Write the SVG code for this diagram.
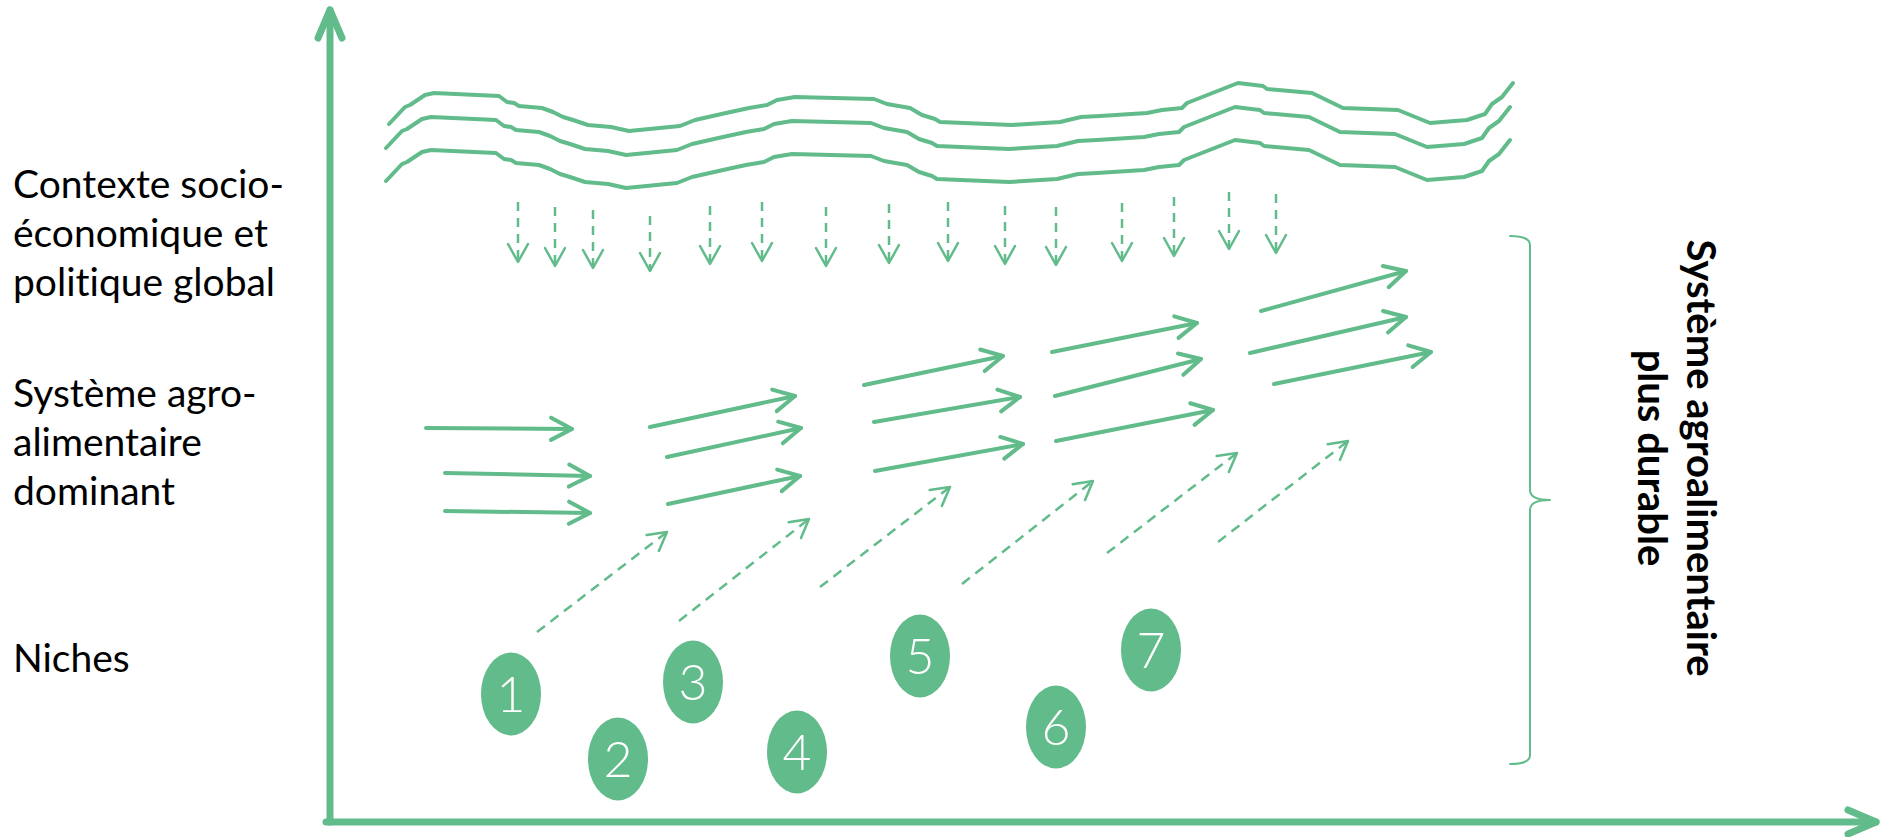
<svg xmlns="http://www.w3.org/2000/svg" xmlns:xlink="http://www.w3.org/1999/xlink" width="1881" height="837" viewBox="0 0 1881 837">
<style>
.g{fill:none;stroke:#62BB8A;stroke-linecap:round;stroke-linejoin:round}
.axis{stroke-width:7}
.wave{stroke-width:4}
.solid{stroke-width:4}
.vd{stroke-width:2.5;stroke-dasharray:9 7;stroke-linecap:butt}
.dd{stroke-width:2.5;stroke-dasharray:10 7;stroke-linecap:butt}
.brace{stroke-width:2}
text{font-variant-ligatures:none;font-feature-settings:"liga" 0,"dlig" 0,"clig" 0}
.lbl{font-family:Lato,"Liberation Sans",sans-serif;font-size:39px;fill:#000}
.rlbl{font-family:Lato,"Liberation Sans",sans-serif;font-size:40px;font-weight:bold;fill:#000;text-anchor:middle}
.niche ellipse{fill:#62BB8A}
.niche text{font-family:Lato,"Liberation Sans",sans-serif;font-weight:300;font-size:50px;fill:#fff;text-anchor:middle}
</style>
<defs>
<marker id="mAxis" markerUnits="userSpaceOnUse" orient="auto" overflow="visible" refX="0" refY="0" markerWidth="1" markerHeight="1">
<path d="M-28,-12 L0,0 L-28,12" fill="none" stroke="#62BB8A" stroke-width="7" stroke-linecap="round" stroke-linejoin="round"/>
</marker>
<marker id="mSolid" markerUnits="userSpaceOnUse" orient="auto" overflow="visible" refX="0" refY="0" markerWidth="1" markerHeight="1">
<path d="M-21,-11 L0,0 L-21,11" fill="none" stroke="#62BB8A" stroke-width="4" stroke-linecap="round" stroke-linejoin="round"/>
</marker>
<marker id="mDash" markerUnits="userSpaceOnUse" orient="auto" overflow="visible" refX="0" refY="0" markerWidth="1" markerHeight="1">
<path d="M-18,-10 L0,0 L-18,10" fill="none" stroke="#62BB8A" stroke-width="2.5" stroke-linecap="round" stroke-linejoin="round"/>
</marker>
<path id="wave" d="M389,124 L405,107 L410,105 L425,95 L434,93 L499,96 L507,102 L514,103 L519,106 L542,108 L553,112 L563,117 L573,120 L588,125 L611,127 L629,131 L680,126 L695,120 L726,113 L749,108 L767,105 L777,100 L795,97 L874,99 L887,104 L910,108 L922,115 L935,119 L940,122 L1012,125 L1060,122 L1081,117 L1100,116 L1147,113 L1162,110 L1182,108 L1187,103 L1238,83 L1263,86 L1267,89 L1312,93 L1343,108 L1398,110 L1430,123 L1467,120 L1485,114 L1492,104 L1502,97 L1513,83"/>
</defs>

<g id="axes" class="g axis">
<line x1="330" y1="822" x2="330" y2="10" marker-end="url(#mAxis)"/>
<line x1="326" y1="822" x2="1876" y2="822" marker-end="url(#mAxis)"/>
</g>

<g id="labels-left">
<text class="lbl" x="13" y="198">Contexte socio-</text>
<text class="lbl" x="13" y="247">économique et</text>
<text class="lbl" x="13" y="296">politique global</text>
<text class="lbl" x="13" y="407">Système agro-</text>
<text class="lbl" x="13" y="456">alimentaire</text>
<text class="lbl" x="13" y="505">dominant</text>
<text class="lbl" x="13" y="672">Niches</text>
</g>

<g id="context" class="g wave">
<use xlink:href="#wave"/>
<use xlink:href="#wave" transform="translate(-3,24)"/>
<use xlink:href="#wave" transform="translate(-3,57)"/>
</g>

<g id="connectors">
<g id="pressure-arrows" class="g vd">
<line x1="518" y1="202" x2="518" y2="262" marker-end="url(#mDash)"/>
<line x1="555" y1="207" x2="555" y2="266" marker-end="url(#mDash)"/>
<line x1="593" y1="210" x2="593" y2="268" marker-end="url(#mDash)"/>
<line x1="650" y1="216" x2="650" y2="271" marker-end="url(#mDash)"/>
<line x1="710" y1="206" x2="710" y2="264" marker-end="url(#mDash)"/>
<line x1="762" y1="202" x2="762" y2="261" marker-end="url(#mDash)"/>
<line x1="826" y1="207" x2="826" y2="266" marker-end="url(#mDash)"/>
<line x1="889" y1="204" x2="889" y2="263" marker-end="url(#mDash)"/>
<line x1="948" y1="202" x2="948" y2="261" marker-end="url(#mDash)"/>
<line x1="1005" y1="206" x2="1005" y2="264" marker-end="url(#mDash)"/>
<line x1="1056" y1="207" x2="1056" y2="265" marker-end="url(#mDash)"/>
<line x1="1122" y1="203" x2="1122" y2="261" marker-end="url(#mDash)"/>
<line x1="1174" y1="197" x2="1174" y2="256" marker-end="url(#mDash)"/>
<line x1="1229" y1="192" x2="1229" y2="249" marker-end="url(#mDash)"/>
<line x1="1276" y1="194" x2="1276" y2="253" marker-end="url(#mDash)"/>
</g>
<g id="regime-arrows" class="g solid">
<line x1="426" y1="428" x2="572" y2="429" marker-end="url(#mSolid)"/>
<line x1="445" y1="473" x2="590" y2="476" marker-end="url(#mSolid)"/>
<line x1="445" y1="511" x2="590" y2="513" marker-end="url(#mSolid)"/>
<line x1="650" y1="427" x2="795" y2="396" marker-end="url(#mSolid)"/>
<line x1="667" y1="457" x2="801" y2="428" marker-end="url(#mSolid)"/>
<line x1="668" y1="504" x2="800" y2="476" marker-end="url(#mSolid)"/>
<line x1="864" y1="385" x2="1003" y2="356" marker-end="url(#mSolid)"/>
<line x1="874" y1="422" x2="1020" y2="397" marker-end="url(#mSolid)"/>
<line x1="875" y1="471" x2="1023" y2="444" marker-end="url(#mSolid)"/>
<line x1="1052" y1="352" x2="1197" y2="323" marker-end="url(#mSolid)"/>
<line x1="1055" y1="396" x2="1201" y2="359" marker-end="url(#mSolid)"/>
<line x1="1056" y1="441" x2="1213" y2="410" marker-end="url(#mSolid)"/>
<line x1="1261" y1="311" x2="1406" y2="271" marker-end="url(#mSolid)"/>
<line x1="1250" y1="353" x2="1406" y2="317" marker-end="url(#mSolid)"/>
<line x1="1274" y1="384" x2="1431" y2="352" marker-end="url(#mSolid)"/>
</g>
<g id="niche-arrows" class="g dd">
<line x1="537" y1="632" x2="667" y2="532" marker-end="url(#mDash)"/>
<line x1="679" y1="621" x2="809" y2="519" marker-end="url(#mDash)"/>
<line x1="820" y1="587" x2="950" y2="487" marker-end="url(#mDash)"/>
<line x1="962" y1="584" x2="1093" y2="481" marker-end="url(#mDash)"/>
<line x1="1107" y1="553" x2="1237" y2="453" marker-end="url(#mDash)"/>
<line x1="1218" y1="542" x2="1348" y2="441" marker-end="url(#mDash)"/>
</g>
</g>

<g id="niche-1" class="niche"><ellipse cx="511" cy="694" rx="30" ry="41.5"/><text x="511" y="712">1</text></g>
<g id="niche-2" class="niche"><ellipse cx="618" cy="759" rx="30" ry="41.5"/><text x="618" y="777">2</text></g>
<g id="niche-3" class="niche"><ellipse cx="693" cy="682" rx="30" ry="41.5"/><text x="693" y="700">3</text></g>
<g id="niche-4" class="niche"><ellipse cx="797" cy="752" rx="30" ry="41.5"/><text x="797" y="770">4</text></g>
<g id="niche-5" class="niche"><ellipse cx="920" cy="656" rx="30" ry="41.5"/><text x="920" y="674">5</text></g>
<g id="niche-6" class="niche"><ellipse cx="1056" cy="727" rx="30" ry="41.5"/><text x="1056" y="745">6</text></g>
<g id="niche-7" class="niche"><ellipse cx="1151" cy="650" rx="30" ry="41.5"/><text x="1151" y="668">7</text></g>

<g id="brace-sustainable">
<path class="g brace" d="M1510,236 Q1530,236 1530,245 L1530,490 Q1530,500 1550,500 Q1530,500 1530,510 L1530,755 Q1530,764 1510,764"/>
<text class="rlbl" transform="translate(1687,458) rotate(90)">Système agroalimentaire</text>
<text class="rlbl" transform="translate(1638,458) rotate(90)">plus durable</text>
</g>
</svg>
